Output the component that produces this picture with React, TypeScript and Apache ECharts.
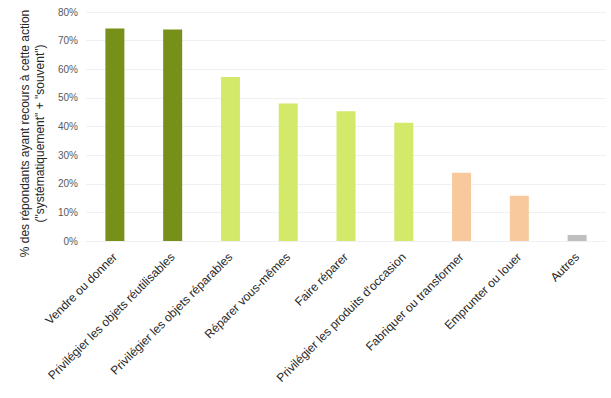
import React, { useEffect, useRef } from "react";
import * as echarts from "echarts";

const categories = [
  "Vendre ou donner",
  "Privilégier les objets réutilisables",
  "Privilégier les objets réparables",
  "Réparer vous-mêmes",
  "Faire réparer",
  "Privilégier les produits d'occasion",
  "Fabriquer ou transformer",
  "Emprunter ou louer",
  "Autres",
];
const values = [74.2, 73.9, 57.3, 48.0, 45.3, 41.3, 23.8, 15.8, 2.1];
const colors = [
  "#76901a",
  "#76901a",
  "#d3e96a",
  "#d3e96a",
  "#d3e96a",
  "#d3e96a",
  "#f7c99c",
  "#f7c99c",
  "#bfbfbf",
];
const yAxisName = '% des répondants ayant recours à cette action\n("systématiquement" + "souvent")';

export default function App() {
  const ref = useRef<HTMLDivElement>(null);
  useEffect(() => {
    if (!ref.current) return;
    const chart = echarts.init(ref.current, null, { renderer: "svg" });
    chart.setOption({
      animation: false,
      backgroundColor: "#ffffff",
      textStyle: { fontFamily: "Liberation Sans" },
      grid: { left: 86, right: 5, top: 12, height: 229, containLabel: false, outerBoundsMode: "none" },
      xAxis: {
        type: "category",
        data: categories,
        axisTick: { show: false },
        axisLine: { show: true, lineStyle: { color: "#eef1f4" } },
        axisLabel: {
          rotate: 45,
          interval: 0,
          fontSize: 12,
          color: "#262626",
          margin: 14,
        },
      },
      yAxis: {
        type: "value",
        min: 0,
        max: 80,
        interval: 10,
        name: yAxisName,
        nameLocation: "middle",
        nameGap: 37,
        nameTextStyle: { fontSize: 12, color: "#262626", lineHeight: 15, padding: [0, 14, 0, 0] },
        axisLabel: { formatter: "{value}%", fontSize: 10, color: "#595959", margin: 8 },
        splitLine: { lineStyle: { color: "#eef1f4" } },
        axisLine: { show: false },
        axisTick: { show: false },
      },
      series: [
        {
          type: "bar",
          data: values.map((v, i) => ({ value: v, itemStyle: { color: colors[i] } })),
          barWidth: 19,
        },
      ],
    });
    return () => chart.dispose();
  }, []);
  return <div ref={ref} style={{ width: 611, height: 398, position: "absolute", left: 0, top: 0 }} />;
}
